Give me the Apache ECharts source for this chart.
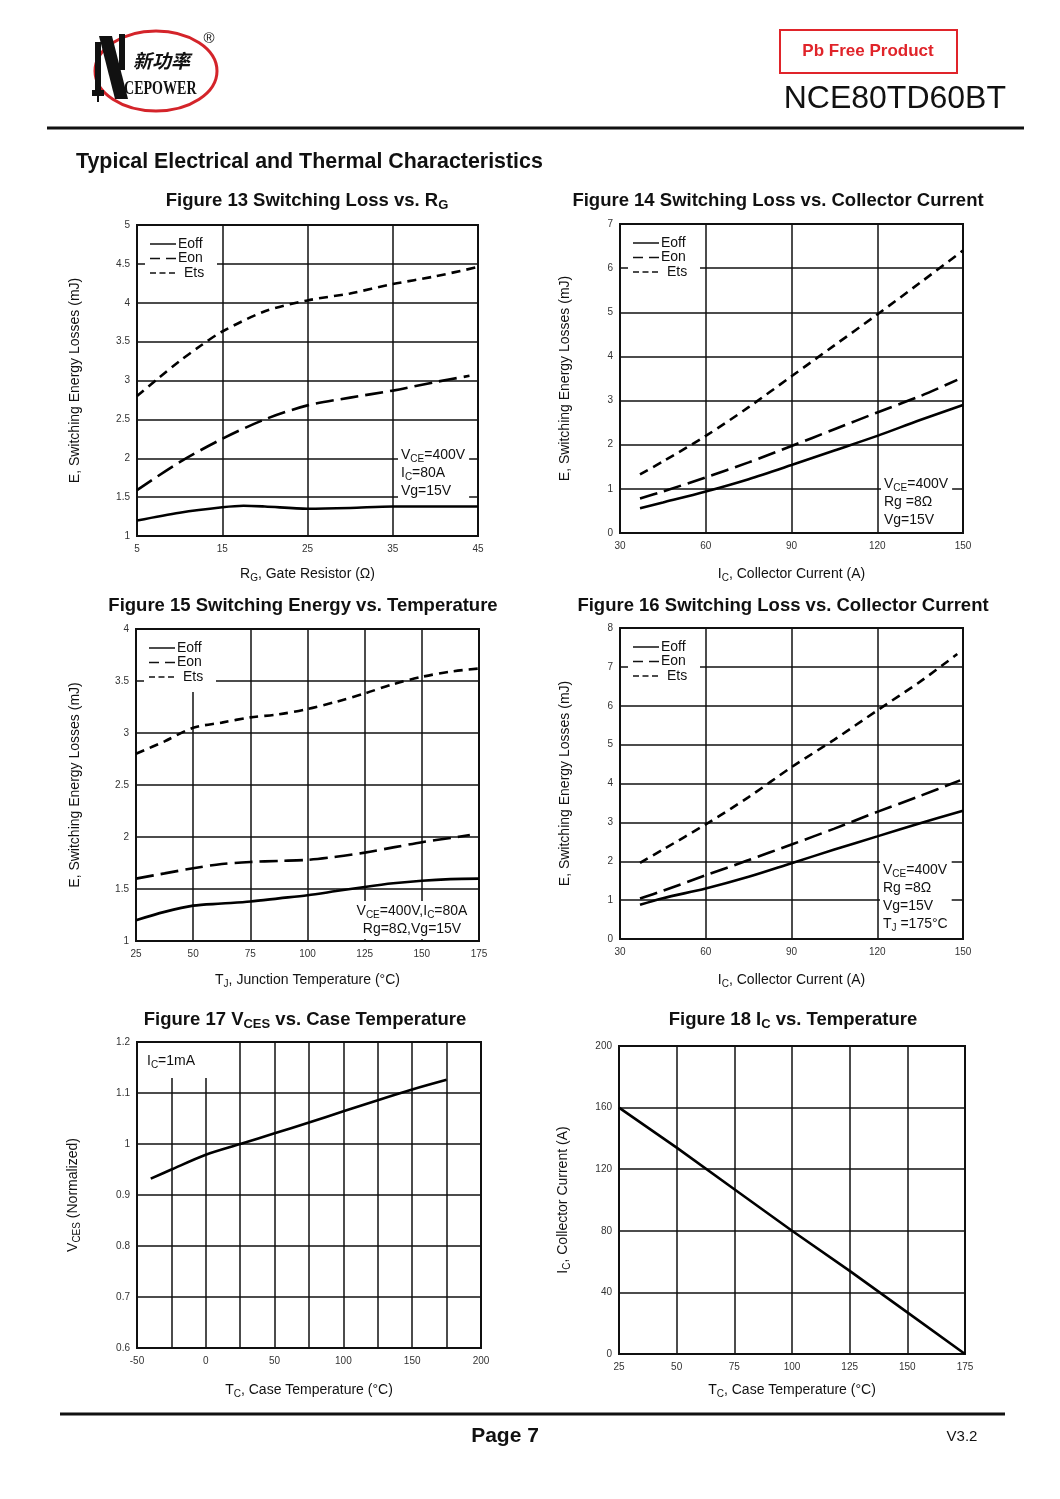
<!DOCTYPE html>
<html><head><meta charset="utf-8">
<script src="https://cdn.jsdelivr.net/npm/echarts@6/dist/echarts.min.js"></script>
<style>html,body{margin:0;padding:0;background:#fff}#c{width:1060px;height:1499px}</style>
</head><body><div id="c"></div>
<script>
// ---------- DATA ----------
// Figure 13: Switching loss vs RG
const f13_rg_off = [5, 10, 15, 17.5, 20, 25, 30, 35, 40, 45];
const f13_eoff   = [1.2, 1.3, 1.37, 1.39, 1.38, 1.35, 1.36, 1.38, 1.38, 1.38];
const f13_rg_on  = [5, 10, 15, 20, 25, 30, 35, 40, 44];
const f13_eon    = [1.59, 1.95, 2.25, 2.5, 2.68, 2.78, 2.87, 2.98, 3.06];
const f13_rg_ts  = [5, 7.5, 10, 12.5, 15, 20, 25, 30, 35, 40, 45];
const f13_ets    = [2.8, 3.03, 3.25, 3.45, 3.63, 3.89, 4.03, 4.12, 4.24, 4.34, 4.46];
// Figure 14: Switching loss vs IC
const f14_ic     = [37, 45, 60, 75, 90, 105, 120, 135, 150];
const f14_eoff   = [0.56, 0.69, 0.94, 1.22, 1.54, 1.87, 2.2, 2.56, 2.9];
const f14_ic_on  = [37, 45, 60, 75, 90, 105, 120, 135, 148];
const f14_eon    = [0.78, 0.94, 1.26, 1.6, 1.97, 2.35, 2.73, 3.1, 3.47];
const f14_ets    = [1.33, 1.62, 2.2, 2.85, 3.55, 4.25, 4.95, 5.67, 6.4];
// Figure 15: Switching energy vs TJ
const f15_tj     = [25, 37.5, 50, 62.5, 75, 87.5, 100, 112.5, 125, 137.5, 150, 162.5, 175];
const f15_eoff   = [1.2, 1.28, 1.34, 1.36, 1.38, 1.41, 1.44, 1.48, 1.52, 1.555, 1.58, 1.595, 1.6];
const f15_tj_on  = [25, 37.5, 50, 62.5, 75, 87.5, 100, 112.5, 125, 137.5, 150, 162.5, 171];
const f15_eon    = [1.6, 1.65, 1.7, 1.74, 1.76, 1.77, 1.78, 1.81, 1.85, 1.9, 1.95, 1.99, 2.02];
const f15_ets    = [2.8, 2.92, 3.05, 3.1, 3.15, 3.18, 3.23, 3.3, 3.38, 3.47, 3.54, 3.59, 3.62];
// Figure 16: Switching loss vs IC (TJ=175C)
const f16_ic     = [37, 45, 60, 75, 90, 105, 120, 135, 150];
const f16_eoff   = [0.88, 1.05, 1.3, 1.6, 1.95, 2.3, 2.64, 2.98, 3.3];
const f16_ic_on  = [37, 45, 60, 75, 90, 105, 120, 135, 149];
const f16_eon    = [1.04, 1.24, 1.64, 2.03, 2.43, 2.84, 3.27, 3.68, 4.08];
const f16_ic_ts  = [37, 45, 60, 75, 90, 105, 120, 135, 148];
const f16_ets    = [1.96, 2.3, 2.95, 3.65, 4.42, 5.13, 5.88, 6.62, 7.33];
// Figure 17: VCES normalized vs TC
const f17_tc     = [-40, -25, 0, 25, 50, 75, 100, 125, 150, 175];
const f17_vces   = [0.932, 0.95, 0.979, 1.0, 1.021, 1.042, 1.064, 1.086, 1.107, 1.126];
// Figure 18: IC vs TC
const f18_tc     = [25, 50, 75, 100, 125, 150, 175];
const f18_ic     = [160, 134, 107, 80, 54, 27, 0];
// legend labels
const legendNames = ['Eoff', 'Eon', 'Ets'];

// ---------- LAYOUT ----------
const FONT = '"Liberation Sans", Arial, sans-serif';
const grids = [
  {left:137, top:225, width:341, height:311},
  {left:620, top:224, width:343, height:309},
  {left:136, top:629, width:343, height:312},
  {left:620, top:628, width:343, height:311},
  {left:137, top:1042, width:344, height:306},
  {left:619, top:1046, width:346, height:308}
];
const subRich = {
  n: {fontSize:14, fontFamily:FONT, color:'#111', lineHeight:18},
  s: {fontSize:10, fontFamily:FONT, color:'#111', lineHeight:12, verticalAlign:'bottom'}
};
function xAx(i, min, max, interval, name, gap, fmt) {
  return {type:'value', gridIndex:i, min, max, interval,
    name, nameLocation:'middle', nameGap:gap,
    nameTextStyle:{fontFamily:FONT, fontSize:14, color:'#111', rich:subRich},
    axisLine:{show:false}, axisTick:{show:false},
    axisLabel:{fontFamily:FONT, fontSize:10, color:'#333', margin:8, formatter: fmt || undefined},
    splitLine:{show:true, lineStyle:{color:'#111', width:1.5}}};
}
function yAx(i, min, max, interval, name, gap) {
  return {type:'value', gridIndex:i, min, max, interval,
    name, nameLocation:'middle', nameGap:gap,
    nameTextStyle:{fontFamily:FONT, fontSize:14, color:'#111', rich:subRich},
    axisLine:{show:false}, axisTick:{show:false},
    axisLabel:{fontFamily:FONT, fontSize:10, color:'#333', margin:7},
    splitLine:{show:true, lineStyle:{color:'#111', width:1.5}}};
}
const DASH_ON = [18, 7], DASH_TS = [9, 6];
function ser(name, xs, ys, idx, dash) {
  return {type:'line', name, xAxisIndex:idx, yAxisIndex:idx, data: xs.map((x,k)=>[x, ys[k]]),
    showSymbol:false, symbol:'none', smooth:0.3, silent:true, z:3,
    lineStyle:{color:'#000', width:2.6, type: dash || 'solid', cap:'butt'}};
}
// legend drawn as a white box with three line samples
function legendG(g) {
  const L = g.left, T = g.top;
  const dashes = [null, [10, 6], [6, 3.5]];
  const els = [{type:'rect', z:15, shape:{x:L+8, y:T+1, width:72, height:62}, style:{fill:'#fff'}}];
  legendNames.forEach((nm, k) => {
    const y = T + 19 + k * 14.5;
    els.push({type:'line', z:16, shape:{x1:L+13, y1:y, x2:L+39, y2:y},
      style:{stroke:'#111', lineWidth:1.5, lineDash: dashes[k] || null}});
    els.push({type:'text', z:16, x: L + (nm === 'Ets' ? 47 : 41), y: y,
      style:{text:nm, font:'14px '+FONT, fill:'#111', verticalAlign:'middle'}});
  });
  return els;
}
const titleRich = {
  n:{fontSize:18.5, fontWeight:'bold', fontFamily:FONT, fill:'#111', lineHeight:22},
  s:{fontSize:13, fontWeight:'bold', fontFamily:FONT, fill:'#111', lineHeight:14, verticalAlign:'bottom'}
};
function title(cx, cy, parts) {
  return {type:'text', x:cx, y:cy, z:10, style:{text:parts, rich:titleRich, align:'center', verticalAlign:'middle', fill:'#111'}};
}
const annRich = {
  n:{fontSize:14, fontFamily:FONT, fill:'#111', lineHeight:18},
  s:{fontSize:10, fontFamily:FONT, fill:'#111', lineHeight:12, verticalAlign:'bottom'}
};
function ann(x, y, text, align, pad) {
  return {type:'text', x, y, z:20, style:{text, rich:annRich, align: align||'left', verticalAlign:'top',
    backgroundColor:'#fff', padding: pad || [3,4,3,4], fill:'#111'}};
}

const graphic = [
  // logo
  {type:'ellipse', shape:{cx:156, cy:71, rx:61, ry:40}, style:{fill:'none', stroke:'#d4242a', lineWidth:3}},
  {type:'polygon', shape:{points:[[99,36],[112,36],[128,99],[115,99]]}, style:{fill:'#111'}},
  {type:'rect', shape:{x:95, y:42, width:6, height:50}, style:{fill:'#111'}},
  {type:'rect', shape:{x:119, y:34, width:6, height:36}, style:{fill:'#111'}},
  {type:'rect', shape:{x:92, y:90, width:12, height:6}, style:{fill:'#111'}},
  {type:'rect', shape:{x:97, y:96, width:2, height:6}, style:{fill:'#111'}},
  {type:'text', x:133, y:61, style:{text:'新功率', font:'italic bold 19px "Noto Sans CJK SC"', fill:'#111', verticalAlign:'middle'}},
  {type:'text', x:124, y:89, scaleX:0.78, style:{text:'CEPOWER', font:'bold 18px "Liberation Serif", serif', fill:'#111', verticalAlign:'middle'}},
  {type:'text', x:209, y:39, style:{text:'®', font:'15px '+FONT, fill:'#111', align:'center', verticalAlign:'middle'}},
  // Pb free
  {type:'rect', shape:{x:780, y:30, width:177, height:43}, style:{fill:'#fff', stroke:'#e0242a', lineWidth:2}},
  {type:'text', x:868, y:51, style:{text:'Pb Free Product', font:'bold 17px '+FONT, fill:'#e0242a', align:'center', verticalAlign:'middle'}},
  {type:'text', x:1006, y:99, style:{text:'NCE80TD60BT', font:'32px '+FONT, fill:'#111', align:'right', verticalAlign:'middle'}},
  {type:'line', shape:{x1:47, y1:128, x2:1024, y2:128}, style:{stroke:'#111', lineWidth:3}},
  {type:'text', x:76, y:162, style:{text:'Typical Electrical and Thermal Characteristics', font:'bold 21.4px '+FONT, fill:'#111', verticalAlign:'middle'}},
  // titles
  title(307, 201, '{n|Figure 13 Switching Loss vs. R}{s|G}'),
  title(778, 201, '{n|Figure 14 Switching Loss vs. Collector Current}'),
  title(303, 606, '{n|Figure 15 Switching Energy vs. Temperature}'),
  title(783, 606, '{n|Figure 16 Switching Loss vs. Collector Current}'),
  title(305, 1020, '{n|Figure 17 V}{s|CES}{n| vs. Case Temperature}'),
  title(793, 1020, '{n|Figure 18 I}{s|C}{n| vs. Temperature}'),
  // legends
  ...legendG(grids[0]), ...legendG(grids[1]), ...legendG(grids[2]), ...legendG(grids[3]),
  // annotations
  ann(398, 444, '{n|V}{s|CE}{n|=400V}\n{n|I}{s|C}{n|=80A}\n{n|Vg=15V}', 'left', [2,4,3,3]),
  ann(881, 473, '{n|V}{s|CE}{n|=400V}\n{n|Rg =8Ω}\n{n|Vg=15V}', 'left', [2,4,2,3]),
  ann(412, 901, '{n|V}{s|CE}{n|=400V,I}{s|C}{n|=80A}\n{n|Rg=8Ω,Vg=15V}', 'center', [1,4,1,4]),
  ann(880, 861, '{n|V}{s|CE}{n|=400V}\n{n|Rg =8Ω}\n{n|Vg=15V}\n{n|T}{s|J}{n| =175°C}', 'left', [0,4,2,3]),
  ann(139, 1043, '{n|I}{s|C}{n|=1mA}', 'left', [9,14,8,8]),
  // footer
  {type:'line', shape:{x1:60, y1:1414, x2:1005, y2:1414}, style:{stroke:'#111', lineWidth:3}},
  {type:'text', x:505, y:1436, style:{text:'Page 7', font:'bold 21px "Liberation Sans Narrow", '+FONT, fill:'#111', align:'center', verticalAlign:'middle'}},
  {type:'text', x:962, y:1437, style:{text:'V3.2', font:'15px "Liberation Sans Narrow", '+FONT, fill:'#111', align:'center', verticalAlign:'middle'}}
];

const fmt50 = v => (Math.round(v) % 50 === 0 ? String(v) : '');

const option = {
  backgroundColor:'#fff',
  animation:false,
  grid: grids.map(g => Object.assign({show:true, borderColor:'#111', borderWidth:2, backgroundColor:'transparent', containLabel:false}, g)),
  xAxis: [
    xAx(0, 5, 45, 10, '{n|R}{s|G}{n|, Gate Resistor (Ω)}', 29),
    xAx(1, 30, 150, 30, '{n|I}{s|C}{n|, Collector Current (A)}', 32),
    xAx(2, 25, 175, 25, '{n|T}{s|J}{n|, Junction Temperature (°C)}', 30),
    xAx(3, 30, 150, 30, '{n|I}{s|C}{n|, Collector Current (A)}', 32),
    xAx(4, -50, 200, 25, '{n|T}{s|C}{n|, Case Temperature (°C)}', 33, fmt50),
    xAx(5, 25, 175, 25, '{n|T}{s|C}{n|, Case Temperature (°C)}', 27)
  ],
  yAxis: [
    yAx(0, 1, 5, 0.5, 'E, Switching Energy Losses (mJ)', 55),
    yAx(1, 0, 7, 1, 'E, Switching Energy Losses (mJ)', 48),
    yAx(2, 1, 4, 0.5, 'E, Switching Energy Losses (mJ)', 54),
    yAx(3, 0, 8, 1, 'E, Switching Energy Losses (mJ)', 48),
    yAx(4, 0.6, 1.2, 0.1, '{n|V}{s|CES}{n| (Normalized)}', 55),
    yAx(5, 0, 200, 40, '{n|I}{s|C}{n|, Collector Current (A)}', 47)
  ],
  series: [
    ser('Eoff', f13_rg_off, f13_eoff, 0), ser('Eon', f13_rg_on, f13_eon, 0, DASH_ON), ser('Ets', f13_rg_ts, f13_ets, 0, DASH_TS),
    ser('Eoff', f14_ic, f14_eoff, 1), ser('Eon', f14_ic_on, f14_eon, 1, DASH_ON), ser('Ets', f14_ic, f14_ets, 1, DASH_TS),
    ser('Eoff', f15_tj, f15_eoff, 2), ser('Eon', f15_tj_on, f15_eon, 2, DASH_ON), ser('Ets', f15_tj, f15_ets, 2, DASH_TS),
    ser('Eoff', f16_ic, f16_eoff, 3), ser('Eon', f16_ic_on, f16_eon, 3, DASH_ON), ser('Ets', f16_ic_ts, f16_ets, 3, DASH_TS),
    ser('VCES', f17_tc, f17_vces, 4),
    Object.assign(ser('IC', f18_tc, f18_ic, 5), {smooth:false})
  ],
  graphic
};
const chart = echarts.init(document.getElementById('c'), null, {renderer:'canvas', width:1060, height:1499});
chart.setOption(option);
</script></body></html>
